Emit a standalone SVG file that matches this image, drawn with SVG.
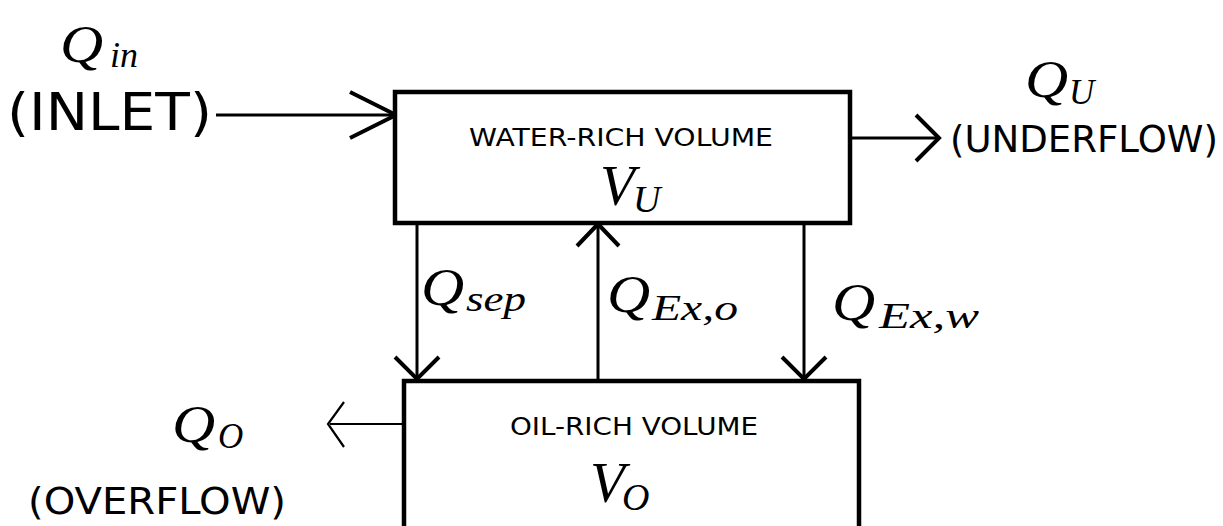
<svg xmlns="http://www.w3.org/2000/svg" width="1223" height="526" viewBox="0 0 1223 526">
<style>
.box{fill:#fff;stroke:#000;stroke-width:4.5}
.ln{fill:none;stroke:#000;stroke-width:3}
.hd{fill:none;stroke:#000;stroke-width:4;stroke-linejoin:miter}
.thin{stroke-width:2.2}
.lbl{font-family:"DejaVu Sans",Verdana,sans-serif;fill:#000}
.m{font-family:"Liberation Serif","Times New Roman",serif;font-style:italic;fill:#000}
.q{font-size:52px}
.s{font-size:35px}
</style>
<rect width="1223" height="526" fill="#fff"/>
<g id="connectors">
<line class="ln" x1="216" y1="115" x2="395" y2="115"/>
<polyline class="hd" points="350,92 396,115 350,138"/>
<line class="ln" x1="850" y1="138" x2="937" y2="138"/>
<polyline class="hd" points="916,115 939,138 916,161"/>
<line class="ln" x1="417" y1="223" x2="417" y2="379"/>
<polyline class="hd" points="395,357 417,379 439,357"/>
<line class="ln" x1="598" y1="381" x2="598" y2="224"/>
<polyline class="hd" points="577,246 598,224 619,246"/>
<line class="ln" x1="804" y1="223" x2="804" y2="379"/>
<polyline class="hd" points="782,357 804,379 826,357"/>
<line class="ln thin" x1="404" y1="424" x2="330" y2="424"/>
<polyline class="hd thin" points="344,402 328,424 344,447"/>
</g>
<g id="water-rich">
<rect class="box" x="395" y="92" width="455" height="131"/>
<text class="lbl" x="469" y="146" font-size="25" textLength="304" lengthAdjust="spacingAndGlyphs">WATER-RICH VOLUME</text>
<text class="m" x="600" y="205" font-size="57">V</text>
<text class="m" x="633" y="212" font-size="38">U</text>
</g>
<g id="oil-rich">
<path class="box" d="M404,530 V381 H859 V530"/>
<text class="lbl" x="510" y="435" font-size="25" textLength="248" lengthAdjust="spacingAndGlyphs">OIL-RICH VOLUME</text>
<text class="m" x="590" y="502" font-size="57">V</text>
<text class="m" x="622" y="510" font-size="38">O</text>
</g>
<g id="inlet">
<text class="m q" transform="translate(60,62) scale(1.15,1)">Q</text>
<text class="m s" x="110" y="67" textLength="28" lengthAdjust="spacingAndGlyphs">in</text>
<text class="lbl" x="7" y="130" font-size="52" textLength="205" lengthAdjust="spacingAndGlyphs">(INLET)</text>
</g>
<g id="underflow">
<text class="m q" transform="translate(1025,97) scale(1.15,1)">Q</text>
<text class="m s" x="1069" y="104">U</text>
<text class="lbl" x="950" y="152" font-size="38" textLength="268" lengthAdjust="spacingAndGlyphs">(UNDERFLOW)</text>
</g>
<g id="overflow">
<text class="m q" transform="translate(172,442) scale(1.15,1)">Q</text>
<text class="m s" x="218" y="448">O</text>
<text class="lbl" x="28" y="514" font-size="38" textLength="258" lengthAdjust="spacingAndGlyphs">(OVERFLOW)</text>
</g>
<g id="flow-labels">
<text class="m q" transform="translate(421,305) scale(1.15,1)">Q</text>
<text class="m s" x="466" y="311" textLength="60" lengthAdjust="spacingAndGlyphs">sep</text>
<text class="m q" transform="translate(607,312) scale(1.15,1)">Q</text>
<text class="m s" x="652" y="320" textLength="86" lengthAdjust="spacingAndGlyphs">Ex,o</text>
<text class="m q" transform="translate(832,320) scale(1.15,1)">Q</text>
<text class="m s" x="879" y="328" textLength="100" lengthAdjust="spacingAndGlyphs">Ex,w</text>
</g>
</svg>
